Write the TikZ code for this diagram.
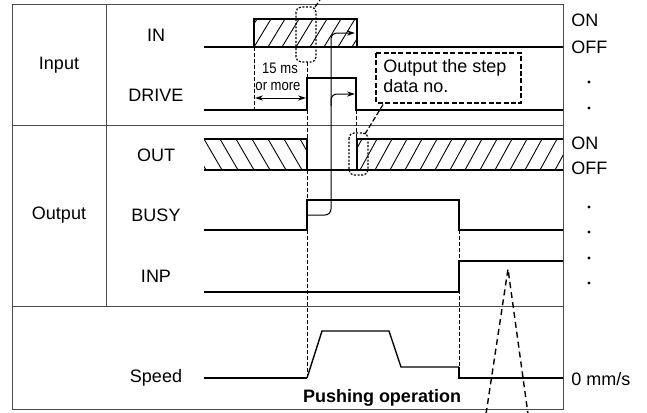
\documentclass[tikz,border=0pt]{standalone}
\usepackage{fontspec}
\setmainfont{Liberation Sans}
\usetikzlibrary{arrows.meta}
\begin{document}
\begin{tikzpicture}[x=0.5pt,y=-0.5pt,
  sig/.style={line width=1.35pt, line join=miter},
  thinsig/.style={line width=0.7pt},
  frame/.style={line width=0.5pt, draw=black!70},
  lbl/.style={font=\fontsize{9}{10}\selectfont, inner sep=0pt},
  small/.style={font=\fontsize{7.6}{8}\selectfont, inner sep=0pt},
  guide/.style={line width=0.5pt, dash pattern=on 2pt off 1pt},
  dotbox/.style={line width=0.6pt, dash pattern=on 1pt off 0.8pt, rounded corners=2.5pt},
  callout/.style={line width=0.6pt, dash pattern=on 2.5pt off 1.2pt},
  hatch/.style={line width=0.45pt},
  flow/.style={line width=0.5pt, rounded corners=3pt, -{Stealth[length=4pt,width=2.6pt]}},
  dot/.style={fill=black, circle, inner sep=0pt, minimum size=1.6pt}
]
\useasboundingbox (0,0) rectangle (647,412);

% frame
\draw[frame] (12,4) rectangle (563,409);
\draw[frame] (12,125) -- (563,125);
\draw[frame] (12,306) -- (563,306);
\draw[frame] (106,4) -- (106,306);

% left labels
\node[lbl] (input) at (59,65) {Input};
\node[lbl] (output) at (59,215) {Output};
\node[lbl] (lin) at (156,35) {IN};
\node[lbl] (ldrive) at (156,95) {DRIVE};
\node[lbl] (lout) at (156,155) {OUT};
\node[lbl] (lbusy) at (156,215) {BUSY};
\node[lbl] (linp) at (156,276) {INP};
\node[lbl] (lspeed) at (156,378) {Speed};

% right labels
\node[lbl, anchor=west] (on1) at (571,20) {ON};
\node[lbl, anchor=west] (off1) at (571,47) {OFF};
\node[dot] (d1) at (589,82) {};
\node[dot] (d2) at (589,108) {};
\node[lbl, anchor=west] (on2) at (571,143) {ON};
\node[lbl, anchor=west] (off2) at (571,168) {OFF};
\node[dot] (d3) at (589,207) {};
\node[dot] (d4) at (589,232) {};
\node[dot] (d5) at (589,258) {};
\node[dot] (d6) at (589,283) {};
\node[lbl, anchor=west] (zero) at (571,379) {0 mm/s};

% hatching
\begin{scope}
  \clip (254,19) rectangle (357,47);
  \foreach \i in {0,...,9} \draw[hatch] (240+\i*14,47) -- ++(17,-28);
\end{scope}
\begin{scope}
  \clip (204,139) rectangle (307,170);
  \foreach \i in {-1,...,7} \draw[hatch] (204+\i*16,139) -- ++(18,31);
\end{scope}
\begin{scope}
  \clip (357,139) rectangle (563,170);
  \foreach \i in {-1,...,14} \draw[hatch] (345+\i*15,170) -- ++(17,-31);
\end{scope}

% guide dashed verticals
\draw[guide] (254,47) -- (254,110);
\draw[guide] (307,62) -- (307,78);
\draw[guide] (307,110) -- (307,378);
\draw[guide] (356,110) -- (356,139);
\draw[guide] (459,230) -- (459,367);

% signals
\draw[sig] (204,47) -- (563,47);
\draw[sig] (254,47) -- (254,19) -- (357,19) -- (357,47);
\draw[sig] (204,110) -- (307,110) -- (307,78) -- (356,78) -- (356,110) -- (563,110);
\draw[sig] (204,139) -- (307,139) -- (307,170);
\draw[sig] (204,170) -- (563,170);
\draw[sig] (357,170) -- (357,139) -- (563,139);
\draw[sig] (204,230) -- (307,230) -- (307,200) -- (459,200) -- (459,230) -- (563,230);
\draw[sig] (204,292) -- (459,292) -- (459,261) -- (563,261);
\draw[sig] (204,378) -- (307,378);
\draw[thinsig] (307,378) -- (322,331) -- (389,331) -- (401,367) -- (459,367);
\draw[sig] (459,367) -- (459,378) -- (563,378);

% 15 ms or more
\draw[line width=0.5pt, {Stealth[length=4pt,width=2.6pt]}-{Stealth[length=4pt,width=2.6pt]}] (255,98) -- (306,98);
\node[small] (t15) at (280,68) {\scalebox{0.86}[1]{15 ms}};
\node[small] (tmore) at (278,86) {\scalebox{0.86}[1]{or more}};

% flow arrows
\draw[flow] (307,215) -- (331,215) -- (331,33) -- (355,33);
\draw[flow] (331,106) -- (331,94) -- (355,94);

% dotted callout boxes
\draw[dotbox] (296,7) rectangle (316,62);
\draw[callout] (315,7) -- (320,0);
\draw[dotbox] (349,133) rectangle (368,175);
\draw[callout] (365,134) -- (384,103);
\draw[callout] (376,53) rectangle (521,103);
\node[lbl, anchor=north west, align=left, font=\fontsize{9}{10}\selectfont] (note) at (383,59) {Output the step\\data no.};

% speed caption
\node[lbl, font=\fontsize{9}{10}\selectfont\bfseries] (push) at (382,398) {Pushing operation};

% dashed triangle
\draw[line width=0.7pt, dash pattern=on 3pt off 2pt] (486,414) -- (508,269) -- (528,414);
\end{tikzpicture}
\end{document}
